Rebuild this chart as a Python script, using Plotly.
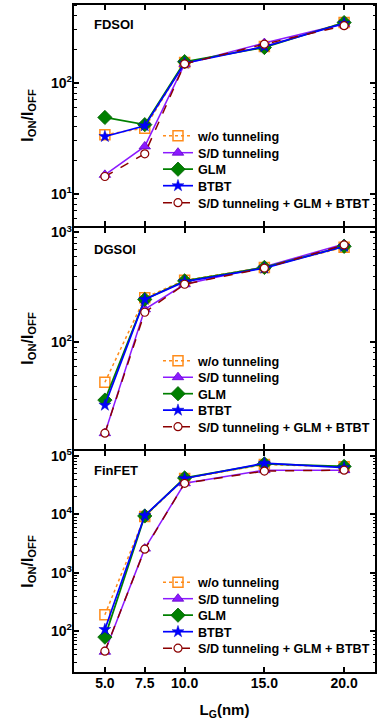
import plotly.graph_objects as go

LG = [5.0, 7.5, 10.0, 15.0, 20.0]
LG_LABELS = ["5.0", "7.5", "10.0", "15.0", "20.0"]
SERIES = ["w/o tunneling", "S/D tunneling", "GLM", "BTBT", "S/D tunneling + GLM + BTBT"]
PANELS = ["FDSOI", "DGSOI", "FinFET"]

# FDSOI
fd_wo = [34, 39, 152, 212, 349]
fd_sd = [14.8, 26.7, 148, 228, 340]
fd_glm = [48.7, 41.9, 155, 208, 349]
fd_btbt = [32.8, 41, 150, 212, 343]
fd_all = [14.3, 22.9, 148, 223, 327]

# DGSOI
dg_wo = [43.3, 255, 368, 481, 733]
dg_sd = [14.9, 200, 338, 488, 785]
dg_glm = [29.8, 246, 363, 481, 748]
dg_btbt = [26.8, 246, 357, 474, 748]
dg_all = [14.9, 188, 338, 474, 770]

# FinFET
fin_wo = [193, 9200, 41000, 71000, 65000]
fin_sd = [45, 2600, 34000, 57000, 57000]
fin_glm = [80, 9400, 42000, 73000, 66000]
fin_btbt = [108, 9600, 41000, 75000, 63000]
fin_all = [46, 2540, 34000, 55000, 57000]

DATA = [
    [fd_wo, fd_sd, fd_glm, fd_btbt, fd_all],
    [dg_wo, dg_sd, dg_glm, dg_btbt, dg_all],
    [fin_wo, fin_sd, fin_glm, fin_btbt, fin_all],
]

Y_RANGES = [[0.70, 2.71], [1.02, 3.05], [1.29, 5.10]]
Y_DECADES = [[1, 2], [2, 3], [2, 3, 4, 5]]

STYLES = [
    dict(line=dict(color="#FF8C1A", width=1.5, dash="dot"),
         marker=dict(symbol="square-open", size=10, color="#FF8C1A", line=dict(width=1.5))),
    dict(line=dict(color="#8B1AFF", width=1.5, dash="solid"),
         marker=dict(symbol="triangle-up", size=10, color="#8B1AFF", line=dict(width=0.8, color="#6600CC"))),
    dict(line=dict(color="#008000", width=1.7, dash="solid"),
         marker=dict(symbol="diamond", size=11, color="#008000", line=dict(width=0.8, color="#006000"))),
    dict(line=dict(color="#0000FF", width=1.7, dash="solid"),
         marker=dict(symbol="star", size=9, color="#0000FF", line=dict(width=0.5, color="#0000CC"))),
    dict(line=dict(color="#8B0000", width=1.5, dash="dash"),
         marker=dict(symbol="circle", size=8, color="white", line=dict(width=1.2, color="#8B0000"))),
]

FONT = "Liberation Sans, Arial, sans-serif"

TOP, BOT = 4, 673
H = float(BOT - TOP)


def py(ypix):
    return (BOT - ypix) / H


# legend row centres (pixels) for each panel
ROW_Y = [
    [136, 153, 169.5, 186, 203],
    [361, 377.5, 394, 410.5, 427],
    [582.5, 599, 615.5, 632, 648.5],
]

fig = go.Figure()
layout = dict(
    width=379, height=724,
    margin=dict(l=73, r=3, t=TOP, b=724 - BOT, autoexpand=False),
    paper_bgcolor="white", plot_bgcolor="white",
    font=dict(family=FONT, size=13, color="black", weight="bold"),
    showlegend=True,
)

leg_idx = 0
for p in range(3):
    sfx = "" if p == 0 else str(p + 1)
    for s in range(5):
        leg_idx += 1
        lname = "legend" if leg_idx == 1 else "legend%d" % leg_idx
        fig.add_trace(go.Scatter(
            x=LG, y=DATA[p][s], mode="lines+markers", name=SERIES[s],
            xaxis="x" + sfx, yaxis="y" + sfx, legend=lname,
            **STYLES[s]))
        layout[lname] = dict(
            x=0.2805, y=py(ROW_Y[p][s]), xanchor="left", yanchor="middle",
            bgcolor="rgba(0,0,0,0)", borderwidth=0, itemwidth=30,
            font=dict(size=12.6, family=FONT, weight="bold", color="black"),
        )

doms = [[446 / H, 1.0], [223 / H, 446 / H], [0.0, 223 / H]]
lab_y = [25, 249, 470.5]

annotations = []
shapes = []
for p in range(3):
    sfx = "" if p == 0 else str(p + 1)
    ax_id = "y" + sfx
    minor_vals = [m * 10 ** d for d in range(0, 6) for m in range(2, 10)]
    xa = dict(
        domain=[0, 1], anchor=ax_id, range=[3, 22],
        tickvals=LG, ticktext=LG_LABELS, ticks="inside", ticklen=6, tickwidth=1.5,
        tickcolor="black",
        showline=False, mirror="allticks",
        showgrid=False, zeroline=False, showticklabels=(p == 2),
        tickfont=dict(size=14, family=FONT, weight="bold"),
    )
    if p == 2:
        xa["title"] = dict(text="L<sub>G</sub>(nm)",
                           font=dict(size=15, family=FONT, weight="bold"), standoff=14)
    if p > 0:
        xa["matches"] = "x"
    layout["xaxis" + sfx] = xa
    layout["yaxis" + sfx] = dict(
        domain=doms[p], anchor="x" + sfx, type="log", range=Y_RANGES[p],
        tickvals=[10 ** d for d in Y_DECADES[p]],
        ticktext=["10<sup>%d</sup>" % d for d in Y_DECADES[p]],
        ticks="inside", ticklen=6, tickwidth=1.5, tickcolor="black",
        minor=dict(tickvals=minor_vals, ticks="inside", ticklen=3.5, tickwidth=1.2, tickcolor="black"),
        showline=False, mirror="allticks",
        showgrid=False, zeroline=False,
        tickfont=dict(size=14, family=FONT, weight="bold"),
        title=dict(text="I<sub>ON</sub>/I<sub>OFF</sub>",
                   font=dict(size=16, family=FONT, weight="bold"), standoff=13),
    )
    shapes.append(dict(
        type="rect", xref="x%s domain" % sfx, yref="y%s domain" % sfx,
        x0=0, x1=1, y0=0, y1=1, line=dict(color="black", width=2),
        fillcolor="rgba(0,0,0,0)", layer="above"))
    annotations.append(dict(
        text=PANELS[p], xref="paper", yref="paper", x=0.063, y=py(lab_y[p]),
        xanchor="left", yanchor="middle", showarrow=False,
        font=dict(size=13, family=FONT, weight="bold", color="black")))

layout["annotations"] = annotations
layout["shapes"] = shapes
fig.update_layout(**layout)
fig.write_html("out.html")
